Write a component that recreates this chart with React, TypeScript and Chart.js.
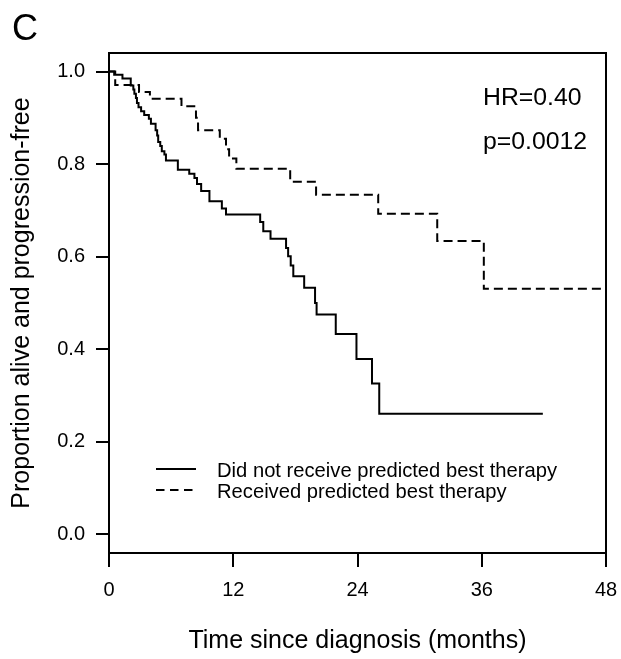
import React, { useEffect, useRef } from 'react';
import { Chart, registerables } from 'chart.js';

Chart.register(...registerables);

const FONT = "'Liberation Sans', Arial, Helvetica, sans-serif";

// Axis ticks
const xTicks = [0, 12, 24, 36, 48];
const yTicks = [0, 0.2, 0.4, 0.6, 0.8, 1.0];

// Did not receive predicted best therapy (solid)
const notReceivedTimes = [
  0, 0.5, 1.3, 2.1, 2.35, 2.45, 2.6, 2.7, 2.85, 3.1, 3.4, 3.85, 4.05, 4.5, 4.65, 4.75, 4.95, 5.1, 5.35,
  5.5, 6.65, 7.75, 8.25, 8.5, 8.9, 9.7, 10.9, 11.3, 14.6, 14.9, 15.6, 17.1, 17.3, 17.55, 17.8, 18.85,
  19.9, 20.05, 21.9, 23.9, 25.4, 26.1, 41.9,
];
const notReceivedSurv = [
  1.0, 0.993, 0.985, 0.97, 0.961, 0.952, 0.943, 0.932, 0.923, 0.914, 0.906, 0.898, 0.887, 0.873, 0.862,
  0.848, 0.839, 0.828, 0.821, 0.808, 0.788, 0.779, 0.77, 0.757, 0.742, 0.72, 0.704, 0.691, 0.675, 0.655,
  0.639, 0.619, 0.601, 0.581, 0.558, 0.533, 0.5, 0.475, 0.433, 0.379, 0.326, 0.261, 0.261,
];

// Received predicted best therapy (dashed)
const receivedTimes = [0, 0.6, 2.9, 3.95, 7.0, 8.4, 8.6, 10.7, 11.3, 11.6, 12.3, 17.5, 20.0, 26.0, 31.7, 36.2, 48];
const receivedSurv = [1.0, 0.971, 0.956, 0.941, 0.925, 0.9, 0.873, 0.855, 0.832, 0.812, 0.79, 0.762, 0.734, 0.693, 0.634, 0.531, 0.531];

const seriesLabels = ['Did not receive predicted best therapy', 'Received predicted best therapy'];
const hrText = 'HR=0.40';
const pText = 'p=0.0012';
const panelLabel = 'C';
const xTitle = 'Time since diagnosis (months)';
const yTitle = 'Proportion alive and progression-free';

const DASH = [9, 5];

const overlayPlugin = {
  id: 'overlay',
  afterDatasetsDraw(chart: any) {
    const { ctx, chartArea: a } = chart;
    ctx.save();
    // box
    ctx.strokeStyle = '#000';
    ctx.lineWidth = 2;
    ctx.setLineDash([]);
    ctx.strokeRect(a.left, a.top, a.right - a.left, a.bottom - a.top);

    ctx.fillStyle = '#000';
    // HR / p annotations
    ctx.font = `24.8px ${FONT}`;
    ctx.textAlign = 'left';
    ctx.textBaseline = 'alphabetic';
    ctx.fillText(hrText, a.left + 374, a.top + 51.5);
    ctx.fillText(pText, a.left + 374, a.top + 96);

    // legend
    const lx1 = a.left + 47;
    const lx2 = a.left + 87;
    const tx = a.left + 108;
    const rows = [a.top + 416, a.top + 437];
    ctx.font = `20.2px ${FONT}`;
    ctx.textBaseline = 'middle';
    rows.forEach((y, i) => {
      ctx.beginPath();
      ctx.lineWidth = 2;
      ctx.setLineDash(i === 0 ? [] : [8.5, 5.5]);
      ctx.moveTo(lx1, y);
      ctx.lineTo(lx2, y);
      ctx.stroke();
      ctx.setLineDash([]);
      ctx.fillText(seriesLabels[i], tx, y + 2);
    });

    // panel label
    ctx.font = `36px ${FONT}`;
    ctx.textBaseline = 'alphabetic';
    ctx.fillText(panelLabel, 12, 39.5);
    ctx.restore();
  },
};

export default function App() {
  const ref = useRef<HTMLCanvasElement | null>(null);

  useEffect(() => {
    if (!ref.current) return;
    const toXY = (ts: number[], vs: number[]) => ts.map((t, i) => ({ x: t, y: vs[i] }));
    const chart = new Chart(ref.current, {
      type: 'line',
      data: {
        datasets: [
          {
            label: seriesLabels[0],
            data: toXY(notReceivedTimes, notReceivedSurv),
            borderColor: '#000',
            borderWidth: 2,
            pointRadius: 0,
            stepped: 'before',
            fill: false,
          },
          {
            label: seriesLabels[1],
            data: toXY(receivedTimes, receivedSurv),
            borderColor: '#000',
            borderWidth: 2,
            borderDash: DASH,
            pointRadius: 0,
            stepped: 'before',
            fill: false,
          },
        ],
      },
      options: {
        animation: false,
        responsive: false,
        devicePixelRatio: 1,
        layout: { padding: { left: 0, top: 53, right: 15, bottom: 0 } },
        plugins: { legend: { display: false }, tooltip: { enabled: false }, title: { display: false } },
        scales: {
          x: {
            type: 'linear',
            min: 0,
            max: 48,
            afterBuildTicks: (s: any) => {
              s.ticks = xTicks.map((v) => ({ value: v }));
            },
            afterFit: (s: any) => {
              s.height = 106;
              s.paddingLeft = 0;
              s.paddingRight = 0;
            },
            grid: { drawOnChartArea: false, drawTicks: true, tickLength: 14, color: '#000', lineWidth: 2 },
            border: { display: false },
            ticks: {
              autoSkip: false,
              maxRotation: 0,
              padding: 11,
              color: '#000',
              font: { family: FONT, size: 20 },
              callback: (v: any) => String(v),
            },
            title: {
              display: true,
              text: xTitle,
              color: '#000',
              font: { family: FONT, size: 25 },
              padding: { top: 0, bottom: 3 },
            },
          },
          y: {
            type: 'linear',
            min: -0.04,
            max: 1.04,
            afterBuildTicks: (s: any) => {
              s.ticks = yTicks.map((v) => ({ value: v }));
            },
            afterFit: (s: any) => {
              s.width = 109;
              s.paddingTop = 0;
              s.paddingBottom = 0;
            },
            grid: { drawOnChartArea: false, drawTicks: true, tickLength: 13, color: '#000', lineWidth: 2 },
            border: { display: false },
            ticks: {
              padding: 11,
              color: '#000',
              font: { family: FONT, size: 20 },
              callback: (v: any) => Number(v).toFixed(1),
            },
            title: {
              display: true,
              text: yTitle,
              color: '#000',
              font: { family: FONT, size: 25 },
              padding: { top: 7, bottom: 0 },
            },
          },
        },
      },
      plugins: [overlayPlugin],
    });
    return () => chart.destroy();
  }, []);

  return (
    <div style={{ position: 'absolute', left: 0, top: 0, width: 621, height: 659, background: '#fff' }}>
      <canvas ref={ref} width={621} height={659} style={{ display: 'block', width: 621, height: 659 }} />
    </div>
  );
}
